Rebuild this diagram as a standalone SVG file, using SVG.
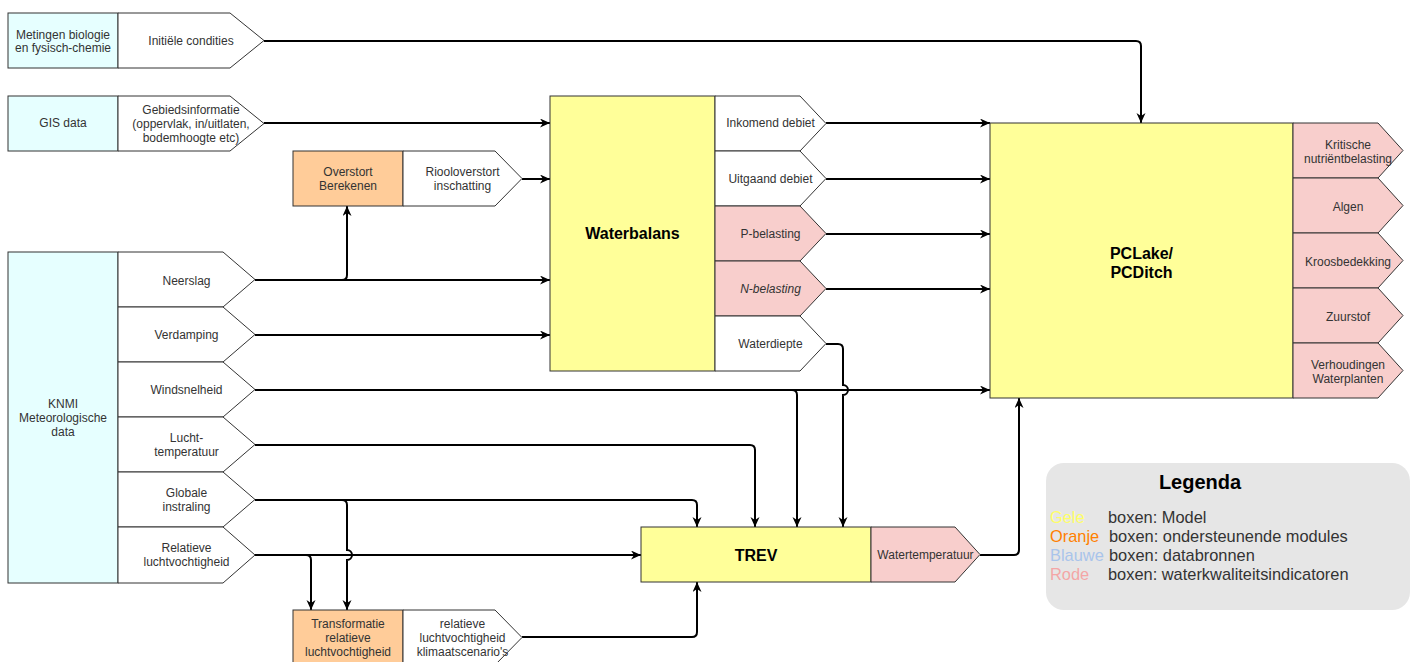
<svg xmlns="http://www.w3.org/2000/svg" width="1411" height="662" viewBox="0 0 1411 662">
<style>
.t{font-family:"Liberation Sans",Arial,Helvetica,sans-serif;font-size:12px;fill:#333;text-anchor:middle}
.b{font-weight:bold;font-size:16px;fill:#000}
.blue{fill:#E6FFFF;stroke:#333;stroke-width:1}
.yel{fill:#FFFF99;stroke:#333;stroke-width:1}
.org{fill:#FFCC99;stroke:#333;stroke-width:1}
.pink{fill:#F8CECC;stroke:#333;stroke-width:1}
.wht{fill:#FFFFFF;stroke:#333;stroke-width:1}
.c{fill:none;stroke:#000;stroke-width:2}
.lg{font-family:"Liberation Sans",Arial,Helvetica,sans-serif;font-size:16.4px;fill:#333}
</style>
<defs>
<marker id="ah" markerUnits="userSpaceOnUse" markerWidth="12" markerHeight="10" refX="10" refY="4.5" orient="auto">
<path d="M0,0 L10,4.5 L0,9 L3,4.5 Z" fill="#000"/>
</marker>
</defs>
<rect width="1411" height="662" fill="#fff"/>

<g id="connectors">
<path class="c" d="M264,41 H1136 Q1141,41 1141,46 V123" marker-end="url(#ah)"/>
<path class="c" d="M264,123 H550" marker-end="url(#ah)"/>
<path class="c" d="M522,179 H550" marker-end="url(#ah)"/>
<path class="c" d="M255,280 H550" marker-end="url(#ah)"/>
<path class="c" d="M255,280 H342 Q347,280 347,275 V206" marker-end="url(#ah)"/>
<path class="c" d="M255,335 H550" marker-end="url(#ah)"/>
<path class="c" d="M255,390 H990" marker-end="url(#ah)"/>
<path class="c" d="M255,390 H792 Q797,390 797,395 V527" marker-end="url(#ah)"/>
<path class="c" d="M255,445 H750 Q755,445 755,450 V527" marker-end="url(#ah)"/>
<path class="c" d="M255,500 H692 Q697,500 697,505 V527" marker-end="url(#ah)"/>
<path class="c" d="M255,500 H342 Q347,500 347,505 V550 A5,5 0 0 1 347,560 V610" marker-end="url(#ah)"/>
<path class="c" d="M255,555 H641" marker-end="url(#ah)"/>
<path class="c" d="M255,555 H306 Q311,555 311,560 V610" marker-end="url(#ah)"/>
<path class="c" d="M826,344 H838 Q843,344 843,349 V385 A5,5 0 0 1 843,395 V527" marker-end="url(#ah)"/>
<path class="c" d="M522,637 H692 Q697,637 697,632 V582" marker-end="url(#ah)"/>
<path class="c" d="M980,555 H1014 Q1019,555 1019,550 V398" marker-end="url(#ah)"/>
<path class="c" d="M826,123 H990" marker-end="url(#ah)"/>
<path class="c" d="M826,179 H990" marker-end="url(#ah)"/>
<path class="c" d="M826,234 H990" marker-end="url(#ah)"/>
<path class="c" d="M826,289 H990" marker-end="url(#ah)"/>
</g>

<g id="metingen">
<rect class="blue" x="8" y="13" width="110" height="55"/>
<text class="t" x="63" y="39">Metingen biologie</text>
<text class="t" x="63" y="52">en fysisch-chemie</text>
</g>
<g id="initiele-condities">
<polygon class="wht" points="118,13 230,13 264,40.5 230,68 118,68"/>
<text class="t" x="191" y="45">Initiële condities</text>
</g>

<g id="gis">
<rect class="blue" x="8" y="96" width="110" height="55"/>
<text class="t" x="63" y="127">GIS data</text>
</g>
<g id="gebiedsinformatie">
<polygon class="wht" points="118,96 230,96 264,123.5 230,151 118,151"/>
<text class="t" x="191" y="114">Gebiedsinformatie</text>
<text class="t" x="191" y="128">(oppervlak, in/uitlaten,</text>
<text class="t" x="191" y="142">bodemhoogte etc)</text>
</g>

<g id="overstort">
<rect class="org" x="293" y="151" width="110" height="55"/>
<text class="t" x="348" y="176">Overstort</text>
<text class="t" x="348" y="190">Berekenen</text>
</g>
<g id="riooloverstort">
<polygon class="wht" points="403,151 495,151 522,178.5 495,206 403,206"/>
<text class="t" x="462.5" y="176">Riooloverstort</text>
<text class="t" x="462.5" y="190">inschatting</text>
</g>

<g id="waterbalans">
<rect class="yel" x="550" y="96" width="165" height="275"/>
<text class="t b" x="632.5" y="239">Waterbalans</text>
</g>
<g id="inkomend-debiet">
<polygon class="wht" points="715,96 800,96 826,123.5 800,151 715,151"/>
<text class="t" x="770.5" y="127">Inkomend debiet</text>
</g>
<g id="uitgaand-debiet">
<polygon class="wht" points="715,151 800,151 826,178.5 800,206 715,206"/>
<text class="t" x="770.5" y="183">Uitgaand debiet</text>
</g>
<g id="p-belasting">
<polygon class="pink" points="715,206 800,206 826,233.5 800,261 715,261"/>
<text class="t" x="770.5" y="238">P-belasting</text>
</g>
<g id="n-belasting">
<polygon class="pink" points="715,261 800,261 826,288.5 800,316 715,316"/>
<text class="t" x="770.5" y="293" font-style="italic">N-belasting</text>
</g>
<g id="waterdiepte">
<polygon class="wht" points="715,316 800,316 826,343.5 800,371 715,371"/>
<text class="t" x="770.5" y="348">Waterdiepte</text>
</g>

<g id="pclake">
<rect class="yel" x="990" y="123" width="303" height="275"/>
<text class="t b" x="1141.5" y="259">PCLake/</text>
<text class="t b" x="1141.5" y="278">PCDitch</text>
</g>
<g id="kritische">
<polygon class="pink" points="1293,123 1378,123 1403,150.5 1378,178 1293,178"/>
<text class="t" x="1348" y="149">Kritische</text>
<text class="t" x="1348" y="163">nutriëntbelasting</text>
</g>
<g id="algen">
<polygon class="pink" points="1293,178 1378,178 1403,205.5 1378,233 1293,233"/>
<text class="t" x="1348" y="211">Algen</text>
</g>
<g id="kroosbedekking">
<polygon class="pink" points="1293,233 1378,233 1403,260.5 1378,288 1293,288"/>
<text class="t" x="1348" y="266">Kroosbedekking</text>
</g>
<g id="zuurstof">
<polygon class="pink" points="1293,288 1378,288 1403,315.5 1378,343 1293,343"/>
<text class="t" x="1348" y="321">Zuurstof</text>
</g>
<g id="verhoudingen">
<polygon class="pink" points="1293,343 1378,343 1403,370.5 1378,398 1293,398"/>
<text class="t" x="1348" y="369">Verhoudingen</text>
<text class="t" x="1348" y="383">Waterplanten</text>
</g>

<g id="knmi">
<rect class="blue" x="8" y="252" width="110" height="331"/>
<text class="t" x="63" y="408">KNMI</text>
<text class="t" x="63" y="422">Meteorologische</text>
<text class="t" x="63" y="436">data</text>
</g>
<g id="neerslag">
<polygon class="wht" points="118,252 223,252 255,279.5 223,307 118,307"/>
<text class="t" x="186.5" y="285">Neerslag</text>
</g>
<g id="verdamping">
<polygon class="wht" points="118,307 223,307 255,334.5 223,362 118,362"/>
<text class="t" x="186.5" y="339">Verdamping</text>
</g>
<g id="windsnelheid">
<polygon class="wht" points="118,362 223,362 255,389.5 223,417 118,417"/>
<text class="t" x="186.5" y="394">Windsnelheid</text>
</g>
<g id="luchttemperatuur">
<polygon class="wht" points="118,417 223,417 255,444.5 223,472 118,472"/>
<text class="t" x="186.5" y="442">Lucht-</text>
<text class="t" x="186.5" y="456">temperatuur</text>
</g>
<g id="globale-instraling">
<polygon class="wht" points="118,472 223,472 255,499.5 223,527 118,527"/>
<text class="t" x="186.5" y="497">Globale</text>
<text class="t" x="186.5" y="511">instraling</text>
</g>
<g id="relatieve-luchtvochtigheid">
<polygon class="wht" points="118,527 223,527 255,555 223,583 118,583"/>
<text class="t" x="186.5" y="552">Relatieve</text>
<text class="t" x="186.5" y="566">luchtvochtigheid</text>
</g>

<g id="trev">
<rect class="yel" x="641" y="527" width="230" height="55"/>
<text class="t b" x="756" y="561">TREV</text>
</g>
<g id="watertemperatuur">
<polygon class="pink" points="871,527 955,527 980,554.5 955,582 871,582"/>
<text class="t" x="925.5" y="559">Watertemperatuur</text>
</g>

<g id="transformatie">
<rect class="org" x="293" y="610" width="110" height="55"/>
<text class="t" x="348" y="628">Transformatie</text>
<text class="t" x="348" y="642">relatieve</text>
<text class="t" x="348" y="656">luchtvochtigheid</text>
</g>
<g id="klimaatscenarios">
<polygon class="wht" points="403,610 495,610 522,637.5 495,665 403,665"/>
<text class="t" x="462.5" y="628">relatieve</text>
<text class="t" x="462.5" y="642">luchtvochtigheid</text>
<text class="t" x="462.5" y="656">klimaatscenario's</text>
</g>

<g id="legenda">
<rect x="1046" y="463" width="364" height="147" rx="18" ry="18" fill="#E6E6E6"/>
<text x="1200" y="489" font-family="Liberation Sans,Arial,sans-serif" font-size="20" font-weight="bold" fill="#000" text-anchor="middle">Legenda</text>
<text class="lg" x="1050" y="523" style="fill:#FFFF66">Gele</text>
<text class="lg" x="1108" y="523">boxen: Model</text>
<text class="lg" x="1050" y="542" style="fill:#FF8000">Oranje</text>
<text class="lg" x="1109" y="542">boxen: ondersteunende modules</text>
<text class="lg" x="1050" y="561" style="fill:#A9C4EB">Blauwe</text>
<text class="lg" x="1109" y="561">boxen: databronnen</text>
<text class="lg" x="1050" y="580" style="fill:#F4A6A6">Rode</text>
<text class="lg" x="1108" y="580">boxen: waterkwaliteitsindicatoren</text>
</g>
</svg>
